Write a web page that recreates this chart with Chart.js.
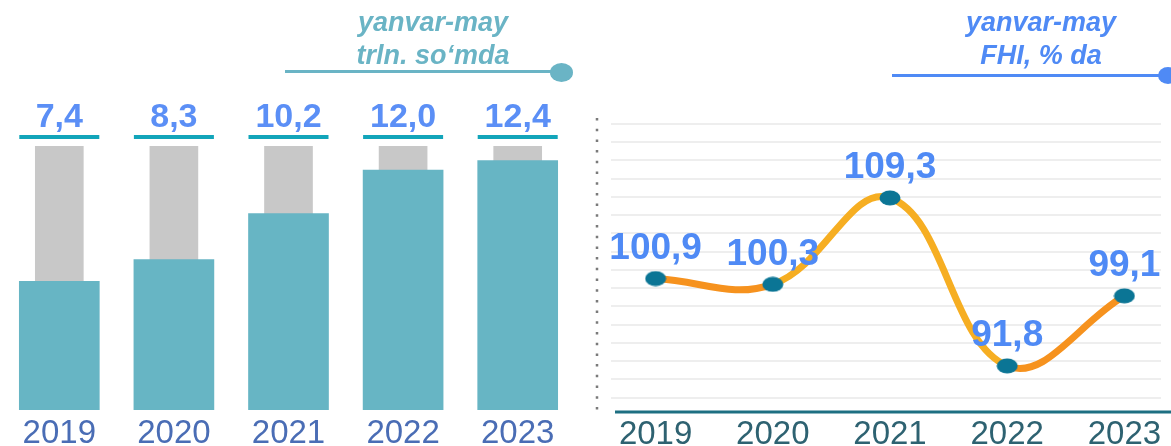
<!DOCTYPE html>
<html><head><meta charset="utf-8">
<script src="https://cdn.jsdelivr.net/npm/chart.js@4.4.0/dist/chart.umd.min.js"></script>
<style>
html,body{margin:0;padding:0;background:#fff;overflow:hidden;}
#stage{position:relative;width:1171px;height:446px;overflow:hidden;}
#c1{position:absolute;left:0;top:0;}
#c2{position:absolute;left:580px;top:0;}
.title{position:absolute;font-family:"Liberation Sans",Arial,sans-serif;font-weight:bold;font-style:italic;font-size:27px;line-height:33px;text-align:center;white-space:nowrap;}
.rule{position:absolute;height:3px;}
.dot{position:absolute;border-radius:50%;}
</style></head><body>
<div id="stage">
<canvas id="c1" width="580" height="446" style="width:580px;height:446px"></canvas>
<canvas id="c2" width="620" height="446" style="width:620px;height:446px"></canvas>
<div class="title" style="left:333px;top:6px;width:200px;color:#6ab4c5">yanvar-may<br>trln. so‘mda</div>
<div class="rule" style="left:285px;top:69.5px;width:268px;background:#6ab4c5"></div>
<div class="dot" style="left:550px;top:63px;width:23px;height:19px;background:#6ab4c5"></div>
<div class="title" style="left:941px;top:6px;width:200px;color:#4f8af5">yanvar-may<br>FHI, % da</div>
<div class="rule" style="left:892px;top:73.5px;width:268px;background:#4f8af5"></div>
<div class="dot" style="left:1158px;top:67px;width:20px;height:17px;background:#4f8af5"></div>
</div>
<script>
// ---- data ----
const years = ['2019', '2020', '2021', '2022', '2023'];
const volumeTrln = [7.4, 8.3, 10.2, 12.0, 12.4];      // trln. so'm, yanvar-may
const indexPct = [100.9, 100.3, 109.3, 91.8, 99.1];   // FHI, % da

// ---- scale settings ----
const BAR_Y_MIN = 2.07, BAR_Y_MAX = 13;
const LINE_Y_MIN = 87, LINE_Y_MAX = 117, GRID_STEP = 1.9;

const fmt = v => v.toFixed(1).replace('.', ',');
const TICK_FONT = { family: '"Liberation Sans", Arial, sans-serif', size: 33 };

// left chart labels + underline
const barLabelPlugin = {
  id: 'barLabels',
  afterDatasetsDraw(chart) {
    const ctx = chart.ctx, top = chart.chartArea.top;
    const meta = chart.getDatasetMeta(0);
    ctx.save();
    meta.data.forEach((bar, i) => {
      const w = bar.width;
      ctx.fillStyle = '#12a5ba';
      ctx.fillRect(bar.x - w / 2, top - 11, w, 4);
      ctx.fillStyle = '#5b8ff6';
      ctx.font = 'bold 34px "Liberation Sans", Arial, sans-serif';
      ctx.textAlign = 'center';
      ctx.textBaseline = 'alphabetic';
      ctx.fillText(fmt(volumeTrln[i]), bar.x, top - 19);
    });
    ctx.restore();
  }
};

new Chart(document.getElementById('c1'), {
  type: 'bar',
  data: {
    labels: years,
    datasets: [
      { data: volumeTrln, backgroundColor: '#67b5c4', barThickness: 80, grouped: false, order: 1 },
      { data: years.map(() => BAR_Y_MAX), backgroundColor: '#c8c8c8', barThickness: 48, grouped: false, order: 2 }
    ]
  },
  options: {
    responsive: false, animation: false, events: [],
    layout: { padding: { left: 2, right: 5, top: 146, bottom: 0 } },
    plugins: { legend: { display: false }, tooltip: { enabled: false } },
    scales: {
      x: {
        grid: { display: false, drawTicks: false }, border: { display: false },
        ticks: { color: '#4a6db5', font: TICK_FONT, padding: 4 },
        afterFit(s) { s.height = 36; }
      },
      y: { display: false, min: BAR_Y_MIN, max: BAR_Y_MAX }
    }
  },
  plugins: [barLabelPlugin]
});

// ellipse point marker
const pt = document.createElement('canvas');
pt.width = 22; pt.height = 16;
const g = pt.getContext('2d');
g.fillStyle = '#0b7595';
g.beginPath(); g.ellipse(11, 8, 10.5, 7.5, 0, 0, Math.PI * 2); g.fill();

const segColors = ['#f6921e', '#f6ae22', '#f6ae22', '#f6921e'];

const lineDecor = {
  id: 'lineDecor',
  beforeDatasetsDraw(chart) {
    const ctx = chart.ctx, a = chart.chartArea, ys = chart.scales.y;
    ctx.save();
    // gridlines
    ctx.strokeStyle = '#eeeeee'; ctx.lineWidth = 2;
    for (let v = LINE_Y_MAX; v > LINE_Y_MIN + 1; v -= GRID_STEP) {
      const y = Math.round(ys.getPixelForValue(v));
      ctx.beginPath(); ctx.moveTo(a.left + 14, y); ctx.lineTo(a.right - 22, y); ctx.stroke();
    }
    // dotted vertical line
    ctx.strokeStyle = '#7a7a7a'; ctx.lineWidth = 2.5; ctx.setLineDash([2.5, 8.2]);
    ctx.beginPath(); ctx.moveTo(a.left, a.top - 6); ctx.lineTo(a.left, a.bottom); ctx.stroke();
    ctx.setLineDash([]);
    // axis line
    ctx.strokeStyle = '#1d6f82'; ctx.lineWidth = 3;
    ctx.beginPath(); ctx.moveTo(a.left + 18, a.bottom); ctx.lineTo(chart.width, a.bottom); ctx.stroke();
    ctx.restore();
  },
  afterDatasetsDraw(chart) {
    const ctx = chart.ctx;
    const meta = chart.getDatasetMeta(0);
    ctx.save();
    ctx.fillStyle = '#4f8af5';
    ctx.font = 'bold 37px "Liberation Sans", Arial, sans-serif';
    ctx.textAlign = 'center';
    ctx.textBaseline = 'middle';
    meta.data.forEach((p, i) => ctx.fillText(fmt(indexPct[i]), p.x, p.y - 30));
    ctx.restore();
  }
};

new Chart(document.getElementById('c2'), {
  type: 'line',
  data: {
    labels: years,
    datasets: [{
      data: indexPct,
      borderWidth: 7,
      borderColor: '#f6ae22',
      segment: { borderColor: c => segColors[c.p0DataIndex] },
      tension: 0.4,
      borderCapStyle: 'round',
      pointStyle: pt,
      pointRadius: 10
    }]
  },
  options: {
    responsive: false, animation: false, events: [],
    layout: { padding: { left: 14, right: 15, top: 124, bottom: 0 } },
    plugins: { legend: { display: false }, tooltip: { enabled: false } },
    scales: {
      x: {
        offset: true,
        grid: { display: false, drawTicks: false }, border: { display: false },
        ticks: { color: '#2e6271', font: TICK_FONT, padding: 3 },
        afterFit(s) { s.height = 34; }
      },
      y: { display: false, min: LINE_Y_MIN, max: LINE_Y_MAX }
    }
  },
  plugins: [lineDecor]
});
</script>
</body></html>
